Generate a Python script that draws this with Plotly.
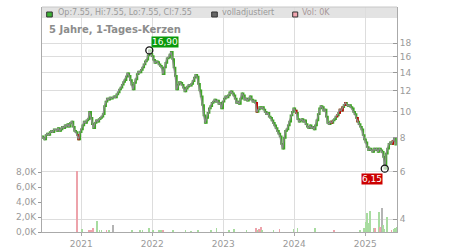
import numpy as np
import pandas as pd
import plotly.graph_objects as go

# ---------------- data ----------------
week_start = "2020-06-12"
close = [
    8.1, 8.0, 7.9, 8.2, 8.3, 8.2, 8.4, 8.5, 8.4, 8.6,
    8.6, 8.5, 8.7, 8.5, 8.6, 8.8, 8.7, 8.9, 8.8, 9.0,
    8.8, 9.1, 9.2, 8.8, 8.5, 8.4, 8.2, 7.9, 8.4, 8.6,
    8.9, 9.2, 9.1, 9.3, 9.4, 10.0, 9.5, 9.0, 8.7, 9.1,
    9.3, 9.2, 9.4, 9.5, 9.6, 9.8, 10.5, 10.9, 11.2, 11.1,
    11.3, 11.2, 11.3, 11.4, 11.3, 11.6, 11.8, 12.1, 12.3, 12.6,
    12.9, 13.1, 13.5, 13.9, 13.6, 13.1, 12.6, 12.1, 12.8, 13.2,
    13.8, 14.1, 14.0, 14.3, 14.6, 15.0, 15.4, 15.6, 16.2, 16.9,
    16.4, 16.1, 15.6, 15.2, 15.4, 15.3, 15.0, 14.8, 14.6, 13.8,
    14.6, 15.2, 15.8, 15.9, 16.3, 16.7, 15.7, 14.6, 13.6, 12.1,
    12.6, 12.9, 12.8, 12.6, 12.3, 11.9, 12.2, 12.4, 12.6, 12.5,
    12.7, 13.0, 13.4, 13.7, 13.5, 12.7, 12.0, 11.4, 10.6, 9.7,
    9.1, 9.5, 9.9, 10.3, 10.5, 10.8, 10.9, 11.1, 10.9, 11.0,
    10.7, 10.8, 10.3, 10.9, 11.2, 11.4, 11.3, 11.5, 11.8, 11.9,
    11.7, 11.5, 11.2, 10.8, 10.9, 10.7, 11.2, 11.7, 11.5, 11.1,
    11.2, 11.0, 11.2, 11.4, 11.1, 10.9, 11.0, 10.8, 10.0, 10.2,
    10.4, 10.3, 10.4, 10.2, 10.0, 9.8, 9.9, 9.6, 9.5, 9.3,
    9.1, 8.9, 8.7, 8.5, 8.3, 8.1, 7.6, 7.3, 8.0, 8.5,
    8.6, 8.9, 9.2, 9.7, 10.0, 10.3, 10.1, 9.9, 9.4, 9.2,
    9.3, 9.4, 9.2, 9.3, 9.0, 8.8, 8.7, 8.9, 8.7, 8.8,
    8.6, 8.9, 9.3, 9.8, 10.3, 10.5, 10.4, 10.1, 10.2, 9.6,
    9.1, 9.0, 9.2, 9.1, 9.3, 9.4, 9.6, 9.7, 9.9, 10.2,
    10.1, 10.4, 10.6, 10.8, 10.6, 10.5, 10.6, 10.4, 10.3, 10.0,
    9.8, 9.5, 9.2, 9.0, 8.8, 8.6, 8.2, 7.9, 7.7, 7.4,
    7.2, 7.3, 7.2, 7.1, 7.3, 7.2, 7.3, 7.1, 7.3, 7.2,
    7.1, 6.8, 6.15, 7.0, 7.3, 7.6, 7.7, 7.6, 7.8, 8.0,
    7.55,
]
# weeks whose candles show red in the picture
red_weeks = [27, 158, 187, 213, 217, 219, 221, 223, 232, 258]

vol_dates = [
    "2020-12-10", "2021-01-05", "2021-02-09", "2021-02-19", "2021-03-02",
    "2021-03-24", "2021-04-05", "2021-04-15", "2021-05-11", "2021-05-25",
    "2021-06-14", "2021-09-17", "2021-10-29", "2021-11-12", "2021-12-16",
    "2022-01-05", "2022-02-04", "2022-02-14", "2022-02-25", "2022-04-18",
    "2022-06-21", "2022-07-18", "2022-08-24", "2022-11-01", "2022-11-27",
    "2023-01-29", "2023-02-24", "2023-05-01", "2023-06-18", "2023-06-26",
    "2023-07-04", "2023-07-13", "2023-07-20", "2023-09-17", "2023-10-18",
    "2023-12-29", "2024-01-18", "2024-04-19", "2024-07-25", "2024-12-03",
    "2024-12-24", "2025-01-02", "2025-01-10", "2025-01-17", "2025-01-24",
    "2025-01-27", "2025-02-13", "2025-02-21", "2025-03-10", "2025-03-14",
    "2025-03-18", "2025-03-27", "2025-04-01", "2025-04-08", "2025-04-22",
    "2025-04-24", "2025-05-16", "2025-05-26", "2025-06-04", "2025-06-11",
]
vol_values = [
    8100, 400, 200, 300, 600,
    1450, 200, 200, 200, 150,
    950, 300, 200, 300, 600,
    150, 300, 200, 300, 150,
    150, 100, 300, 150, 600,
    200, 400, 150, 500, 300,
    400, 700, 300, 150, 400,
    400, 500, 500, 150, 300,
    600, 1400, 2500, 1200, 2800,
    1700, 500, 500, 1500, 2700,
    700, 3200, 1000, 400, 2000,
    200, 300, 400, 600, 700,
]
vol_dir = [
    "d", "u", "d", "d", "d",
    "u", "u", "u", "d", "u",
    "n", "u", "u", "u", "u",
    "u", "u", "u", "d", "u",
    "u", "u", "u", "u", "u",
    "u", "u", "u", "d", "u",
    "d", "d", "u", "u", "d",
    "u", "u", "u", "d", "u",
    "u", "u", "u", "u", "u",
    "u", "u", "d", "u", "u",
    "d", "n", "u", "u", "u",
    "u", "d", "u", "u", "u",
]

vol_ticks = [0, 2000, 4000, 6000, 8000]
vol_tick_text = ["0,0K", "2,0K", "4,0K", "6,0K", "8,0K"]
price_ticks = [4, 6, 8, 10, 12, 14, 16, 18]
year_ticks = ["2021-01-01", "2022-01-01", "2023-01-01", "2024-01-01", "2025-01-01"]
year_text = ["2021", "2022", "2023", "2024", "2025"]

title_text = "5 Jahre, 1-Tages-Kerzen"
legend_ohlc = "Op:7.55, Hi:7.55, Lo:7.55, Cl:7.55"
legend_adj = "volladjustiert"
legend_vol = "Vol: 0K"
max_label = "16,90"
min_label = "6,15"

# ---------------- build ----------------
dates = pd.date_range(week_start, periods=len(close), freq="7D")
close_a = np.array(close)
open_a = np.concatenate([[close_a[0]], close_a[:-1]])
high_a = np.maximum(open_a, close_a)
low_a = np.minimum(open_a, close_a)

imax = int(np.argmax(close_a))
imin = int(np.argmin(close_a))

GREEN = "#3fa626"
RED = "#c40000"
GRID = "#dddddd"
AXIS = "#aaaaaa"
TXT = "#9a9a9a"
FONT = "DejaVu Sans"

vol_color_map = {"u": "#a8dca0", "d": "#eda3ab", "n": "#b4b4b4"}
vol_colors = [vol_color_map[d] for d in vol_dir]

fig = go.Figure()

fig.add_trace(go.Bar(
    x=pd.to_datetime(vol_dates), y=vol_values, yaxis="y2",
    marker=dict(color=vol_colors, line=dict(width=0)),
    width=[4 * 86400000] * len(vol_values), showlegend=False, hoverinfo="skip",
))

fig.add_trace(go.Scatter(
    x=dates, y=close_a, mode="lines", line=dict(color="#8a8a8a", width=1.3),
    showlegend=False, hoverinfo="skip",
))

fig.add_trace(go.Candlestick(
    x=dates, open=open_a, high=high_a, low=low_a, close=close_a,
    increasing=dict(line=dict(color=GREEN, width=1.7), fillcolor=GREEN),
    decreasing=dict(line=dict(color=GREEN, width=1.7), fillcolor=GREEN),
    whiskerwidth=0, showlegend=False, hoverinfo="skip",
))

rw = np.array(red_weeks)
fig.add_trace(go.Candlestick(
    x=dates[rw], open=open_a[rw], high=high_a[rw], low=low_a[rw], close=close_a[rw],
    increasing=dict(line=dict(color=RED, width=1.6), fillcolor=RED),
    decreasing=dict(line=dict(color=RED, width=1.6), fillcolor=RED),
    whiskerwidth=0, showlegend=False, hoverinfo="skip",
))

fig.add_trace(go.Scatter(
    x=[dates[imax], dates[imin]], y=[close_a[imax], close_a[imin]],
    mode="markers",
    marker=dict(size=7, color="rgba(255,255,255,0.6)", line=dict(color="#111111", width=1.3)),
    showlegend=False, hoverinfo="skip",
))

fig.add_annotation(
    x=dates[imax], y=np.log10(close_a[imax]), text=max_label,
    xanchor="left", yanchor="bottom", xshift=2, yshift=2, showarrow=False,
    bgcolor="#0a9a0a", font=dict(family=FONT, size=9, color="white"), borderpad=0,
)
fig.add_annotation(
    x=dates[imin], y=np.log10(close_a[imin]), text=min_label,
    xanchor="right", yanchor="top", xshift=-2, yshift=-4, showarrow=False,
    bgcolor="#cc0000", font=dict(family=FONT, size=9, color="white"), borderpad=0,
)

# header band + legend
fig.add_shape(type="rect", xref="paper", yref="paper", x0=0, x1=1, y0=0.9511, y1=1,
              fillcolor="#e3e3e3", line=dict(width=0), layer="below")
fig.add_shape(type="line", xref="paper", yref="paper", x0=0, x1=1, y0=1, y1=1,
              line=dict(color="#c8c8c8", width=1))

sq = [(0.0132, 0.029, "#3cb335"), (0.478, 0.4938, "#666666"), (0.7062, 0.7203, "#f2a6b0")]
for x0, x1, c in sq:
    fig.add_shape(type="rect", xref="paper", yref="paper", x0=x0, x1=x1, y0=0.9556, y1=0.9778,
                  fillcolor=c, line=dict(color="#333333", width=1))

for xp, t, c in [(0.0394, legend_ohlc, TXT), (0.5014, legend_adj, TXT), (0.7268, legend_vol, "#a89898")]:
    fig.add_annotation(x=xp, y=0.9747, xref="paper", yref="paper", text=t, showarrow=False,
                       xanchor="left", yanchor="middle",
                       font=dict(family=FONT, size=8, color=c))

fig.add_annotation(x=0.0132, y=0.8978, xref="paper", yref="paper", text=title_text,
                   showarrow=False, xanchor="left", yanchor="middle",
                   font=dict(family=FONT, size=10, color="#8c8c8c", weight="bold"))

fig.update_layout(
    width=450, height=250,
    margin=dict(l=42, r=53, t=7, b=18, autoexpand=False),
    paper_bgcolor="white", plot_bgcolor="white",
    showlegend=False, bargap=0,
    xaxis=dict(
        type="date", range=["2020-06-13", "2025-06-13"], automargin=False,
        tickvals=pd.to_datetime(year_ticks), ticktext=year_text,
        showgrid=True, gridcolor=GRID, gridwidth=1,
        showline=True, linecolor=AXIS, linewidth=1,
        ticks="outside", ticklen=3, tickcolor=AXIS,
        tickfont=dict(family=FONT, size=9, color=TXT),
        rangeslider=dict(visible=False), zeroline=False,
    ),
    yaxis=dict(
        type="log", side="right", range=[0.5538, 1.3890], automargin=False,
        tickvals=price_ticks, ticktext=[str(v) for v in price_ticks],
        showgrid=True, gridcolor=GRID, gridwidth=1,
        showline=True, linecolor=AXIS, linewidth=1,
        ticks="inside", ticklen=4, tickcolor="#999999",
        tickfont=dict(family=FONT, size=9, color=TXT),
        zeroline=False,
    ),
    yaxis2=dict(
        overlaying="y", side="left", range=[0, 30000], automargin=False,
        tickvals=vol_ticks, ticktext=vol_tick_text,
        showgrid=False, showline=True, linecolor=AXIS, linewidth=1,
        ticks="outside", ticklen=3, tickcolor="#999999",
        tickfont=dict(family=FONT, size=9, color=TXT),
        zeroline=False,
    ),
)

fig.write_html("out.html")
